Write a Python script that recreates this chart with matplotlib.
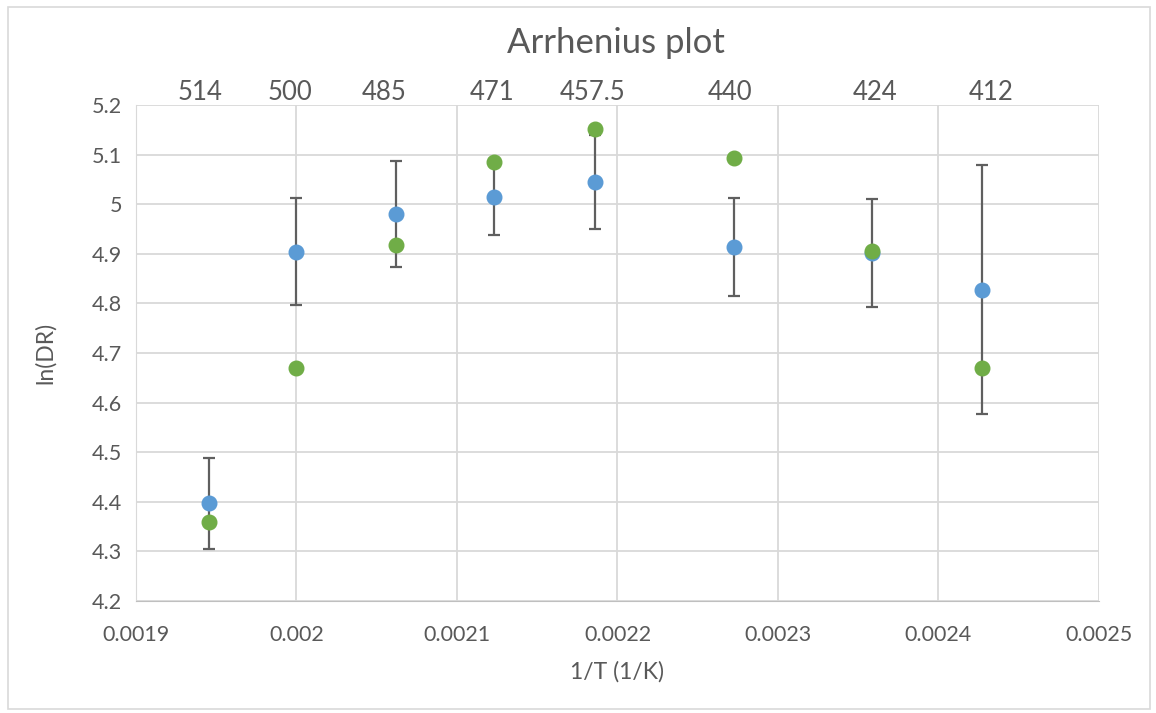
import numpy as np
import matplotlib.pyplot as plt
from matplotlib.patches import Rectangle

plt.rcParams['font.family'] = ['Lato', 'DejaVu Sans']

# temperatures (K) and measured values
temps = [514, 500, 485, 471, 457.5, 440, 424, 412]
temp_labels = ['514', '500', '485', '471', '457.5', '440', '424', '412']
ln_dr_blue = [4.397, 4.904, 4.981, 5.015, 5.045, 4.913, 4.901, 4.828]
ln_dr_green = [4.360, 4.669, 4.917, 5.086, 5.151, 5.094, 4.906, 4.670]
err_blue = [0.092, 0.108, 0.107, 0.077, 0.095, 0.099, 0.109, 0.251]
# where the secondary (top) axis puts its temperature labels
top_label_pos = [0.001940, 0.001996, 0.0020545, 0.0021218, 0.0021847, 0.0022701, 0.0023604, 0.0024327]

inv_t = 1 / np.array(temps)

txt = '#595959'
grid = '#D9D9D9'

fig = plt.figure(figsize=(11.56, 7.13), dpi=100)
ax = fig.add_axes([0.1176, 0.1571, 0.8331, 0.6956])

ax.errorbar(inv_t, ln_dr_blue, yerr=err_blue, fmt='o', color='#5B9BD5', ms=10.5,
            ecolor='#5f5f5f', elinewidth=1.6, capsize=4.5, capthick=1.6, zorder=3)
ax.plot(inv_t, ln_dr_green, 'o', color='#70AD47', ms=10.5, zorder=4)

ax.set_xlim(0.0019, 0.0025)
ax.set_ylim(4.2, 5.2)
ax.set_xticks(np.arange(0.0019, 0.00251, 0.0001))
ax.set_xticklabels(['0.0019', '0.002', '0.0021', '0.0022', '0.0023', '0.0024', '0.0025'])
ax.set_yticks(np.arange(4.2, 5.21, 0.1))
ax.set_yticklabels(['4.2', '4.3', '4.4', '4.5', '4.6', '4.7', '4.8', '4.9', '5', '5.1', '5.2'])
ax.grid(True, color=grid, lw=1.3)
ax.set_axisbelow(True)
ax.tick_params(axis='x', length=0, labelsize=15.5, colors=txt, pad=17)
ax.tick_params(axis='y', length=0, labelsize=15.5, colors=txt, pad=10)
for s in ['top', 'right']:
    ax.spines[s].set_visible(False)
ax.spines['left'].set_color(grid)
ax.spines['bottom'].set_color('#BFBFBF')

ax.set_xlabel('1/T (1/K)', fontsize=16.5, color=txt, labelpad=12)
ax.set_ylabel('ln(DR)', fontsize=16.5, color=txt, labelpad=26)

# temperature labels along the top
top = ax.twiny()
top.set_xlim(ax.get_xlim())
top.set_xticks(top_label_pos)
top.set_xticklabels(temp_labels)
top.tick_params(length=0, labelsize=18.5, colors=txt, pad=0)
for s in top.spines.values():
    s.set_visible(False)

fig.text(0.533, 0.94, 'Arrhenius plot', ha='center', va='center', fontsize=25, color=txt)

fig.patches.append(Rectangle((0.007, 0.006), 0.988, 0.984, transform=fig.transFigure,
                             fill=False, edgecolor=grid, lw=1.2))

fig.savefig('out.png', dpi=100)
